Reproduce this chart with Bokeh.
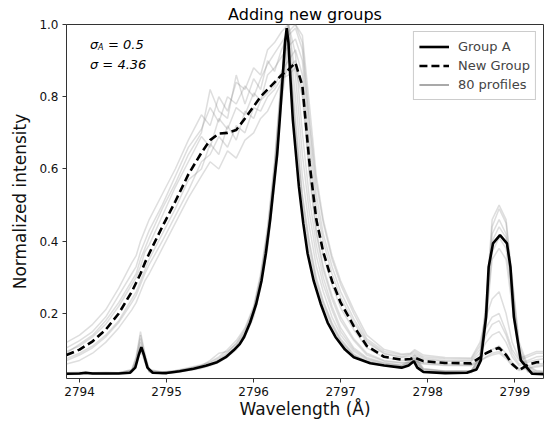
from bokeh.plotting import figure
from bokeh.models import Range1d, FixedTicker, Label, Legend, LegendItem
from bokeh.embed import file_html
from bokeh.resources import INLINE

title = "Adding new groups"
x_ticks = [2794, 2795, 2796, 2797, 2798, 2799]
y_ticks = [0.2, 0.4, 0.6, 0.8, 1.0]
y_tick_labels = ["0.2", "0.4", "0.6", "0.8", "1.0"]

# Group A (solid)
wl_a = [2793.85, 2794.0, 2794.07, 2794.15, 2794.3, 2794.45, 2794.58, 2794.64, 2794.68, 2794.71,
        2794.74, 2794.78, 2794.84, 2795.0, 2795.15, 2795.31, 2795.45, 2795.58, 2795.68, 2795.77,
        2795.84, 2795.89, 2795.96, 2796.03, 2796.09, 2796.14, 2796.19, 2796.23, 2796.27, 2796.30,
        2796.33, 2796.36, 2796.38, 2796.40, 2796.42, 2796.45, 2796.52, 2796.57, 2796.62, 2796.69,
        2796.77, 2796.85, 2796.94, 2797.05, 2797.15, 2797.34, 2797.5, 2797.7, 2797.78, 2797.84,
        2797.88, 2797.95, 2798.2, 2798.45, 2798.56, 2798.61, 2798.67, 2798.70, 2798.75, 2798.83,
        2798.91, 2798.95, 2798.99, 2799.07, 2799.2, 2799.35]
group_a = [0.033, 0.034, 0.036, 0.034, 0.034, 0.034, 0.036, 0.05, 0.085, 0.107,
           0.085, 0.05, 0.036, 0.035, 0.04, 0.047, 0.055, 0.065, 0.079, 0.098,
           0.115, 0.135, 0.175, 0.227, 0.29, 0.366, 0.46, 0.551, 0.64, 0.737,
           0.84, 0.95, 0.99, 0.95, 0.86, 0.737, 0.551, 0.45, 0.366, 0.29,
           0.227, 0.175, 0.135, 0.10, 0.079, 0.062, 0.056, 0.05, 0.056, 0.068,
           0.05, 0.038, 0.035, 0.036, 0.045, 0.07, 0.19, 0.329, 0.394, 0.417,
           0.394, 0.329, 0.19, 0.07, 0.033, 0.032]

# shared wavelength grid for New Group and the individual profiles
wl = [2793.85, 2794.0, 2794.15, 2794.3, 2794.45, 2794.6, 2794.65, 2794.7, 2794.75, 2794.8,
      2794.95, 2795.1, 2795.25, 2795.4, 2795.5, 2795.6, 2795.7, 2795.8, 2795.9, 2796.0,
      2796.08, 2796.16, 2796.24, 2796.32, 2796.4, 2796.48, 2796.56, 2796.64, 2796.72, 2796.8,
      2796.9, 2797.0, 2797.15, 2797.3, 2797.5, 2797.7, 2797.8, 2797.85, 2797.95, 2798.2,
      2798.5, 2798.6, 2798.67, 2798.74, 2798.82, 2798.9, 2798.97, 2799.05, 2799.15, 2799.25,
      2799.35]

new_group = [0.085, 0.10, 0.123, 0.155, 0.20, 0.26, 0.285, 0.31, 0.34, 0.366,
             0.44, 0.51, 0.585, 0.645, 0.68, 0.698, 0.70, 0.708, 0.74, 0.773,
             0.80, 0.82, 0.84, 0.86, 0.875, 0.894, 0.83, 0.62, 0.46, 0.37,
             0.29, 0.23, 0.165, 0.11, 0.08, 0.072, 0.074, 0.078, 0.068, 0.063,
             0.062, 0.078, 0.09, 0.098, 0.105, 0.085, 0.06, 0.043, 0.058, 0.065,
             0.066]

profile_a1 = [.036, .037, .036, .037, .036, .045, .08, .15, .09, .045, .038, .042, .05, .058, .066, .08, .1, .125, .16, .22, .31, .44, .62, .86, 1.0, .80, .58, .44, .33, .26, .19, .14, .095, .072, .06, .055, .066, .08, .046, .04, .041, .08, .22, .44, .49, .45, .29, .11, .05, .04, .038]
profile_a2 = [.031, .032, .033, .032, .033, .038, .055, .10, .065, .038, .033, .036, .042, .048, .055, .065, .08, .10, .135, .19, .27, .38, .55, .78, .93, .72, .52, .39, .29, .23, .17, .125, .085, .066, .056, .05, .058, .066, .04, .035, .036, .06, .17, .35, .38, .35, .22, .08, .038, .034, .033]
profile_a3 = [.034, .035, .035, .036, .035, .042, .07, .13, .08, .042, .036, .04, .047, .055, .07, .09, .095, .115, .15, .21, .30, .42, .60, .84, 1.0, .86, .64, .48, .36, .28, .21, .15, .10, .075, .062, .056, .064, .075, .045, .04, .04, .075, .21, .42, .46, .42, .27, .10, .045, .037, .036]
profile_a4 = [.033, .034, .034, .034, .035, .04, .065, .12, .075, .04, .035, .039, .045, .052, .06, .072, .088, .11, .145, .205, .29, .41, .58, .83, .98, .74, .53, .40, .30, .235, .175, .13, .088, .068, .058, .052, .062, .072, .042, .037, .038, .07, .2, .40, .44, .41, .26, .095, .042, .036, .035]
profile_a5 = [.035, .036, .036, .035, .036, .043, .075, .14, .085, .043, .037, .041, .048, .056, .064, .076, .092, .118, .155, .215, .30, .43, .61, .85, 1.0, .92, .70, .52, .39, .30, .22, .16, .105, .078, .064, .057, .07, .085, .048, .041, .042, .08, .23, .46, .50, .46, .30, .12, .055, .042, .04]
profile_a6 = [.032, .033, .033, .033, .034, .039, .06, .11, .068, .039, .034, .037, .043, .05, .058, .07, .085, .108, .142, .2, .28, .39, .56, .80, .96, .70, .50, .37, .28, .22, .165, .122, .083, .065, .055, .05, .06, .07, .041, .036, .037, .065, .18, .37, .41, .38, .24, .085, .04, .035, .034]

profile_b1 = [.12, .14, .17, .21, .27, .34, .36, .40, .43, .46, .53, .60, .68, .75, .72, .80, .76, .84, .82, .88, .86, .93, .95, .98, 1.0, 1.0, .95, .74, .56, .45, .35, .28, .20, .13, .095, .085, .088, .095, .08, .075, .074, .11, .16, .19, .2, .15, .10, .07, .08, .09, .09]
profile_b2 = [.06, .07, .09, .12, .16, .21, .23, .26, .29, .31, .38, .45, .52, .58, .62, .60, .65, .63, .68, .70, .74, .76, .80, .84, .88, .90, .82, .60, .43, .33, .25, .19, .13, .09, .07, .064, .066, .07, .062, .058, .057, .07, .08, .09, .095, .08, .058, .045, .05, .055, .058]
profile_b3 = [.095, .11, .135, .17, .22, .28, .30, .33, .37, .39, .47, .55, .62, .69, .66, .74, .71, .77, .75, .81, .79, .86, .88, .91, .94, .96, .90, .68, .50, .40, .31, .245, .175, .12, .088, .078, .08, .085, .072, .068, .067, .09, .12, .14, .15, .12, .08, .055, .065, .072, .075]
profile_b4 = [.075, .09, .11, .14, .18, .24, .26, .29, .32, .35, .42, .49, .57, .60, .67, .64, .72, .68, .76, .74, .79, .81, .83, .87, .90, .93, .86, .64, .47, .36, .28, .215, .155, .105, .078, .07, .072, .076, .066, .061, .06, .075, .09, .10, .11, .09, .065, .047, .055, .06, .062]
profile_b5 = [.105, .125, .15, .19, .25, .31, .33, .37, .40, .43, .50, .58, .66, .71, .77, .73, .80, .78, .83, .80, .85, .89, .92, .95, .98, 1.0, .97, .78, .58, .46, .36, .29, .21, .14, .10, .088, .09, .10, .085, .078, .077, .12, .19, .24, .26, .2, .12, .075, .085, .095, .095]
profile_b6 = [.07, .085, .105, .135, .175, .23, .25, .28, .31, .335, .40, .47, .54, .62, .64, .69, .66, .72, .70, .77, .76, .80, .82, .85, .86, .88, .80, .58, .42, .32, .24, .18, .125, .085, .068, .062, .064, .068, .06, .056, .055, .068, .078, .085, .09, .075, .055, .042, .048, .052, .055]
profile_b7 = [.09, .115, .14, .18, .23, .29, .31, .35, .38, .41, .49, .56, .64, .70, .82, .76, .74, .86, .78, .85, .82, .90, .87, .93, .97, .99, .93, .72, .53, .42, .33, .26, .185, .125, .09, .08, .085, .09, .076, .07, .07, .10, .14, .17, .18, .14, .09, .06, .07, .08, .082]

profiles = [profile_a1, profile_a2, profile_a3, profile_a4, profile_a5, profile_a6,
            profile_b1, profile_b2, profile_b3, profile_b4, profile_b5, profile_b6, profile_b7]

FONT = "DejaVu Sans"

p = figure(width=549, height=427, output_backend="svg", toolbar_location=None,
           x_range=Range1d(2793.85, 2799.33), y_range=Range1d(0.02, 1.0),
           title=title, min_border_left=66, min_border_right=6,
           min_border_top=24, min_border_bottom=49)

p.title.align = "center"
p.title.text_font = FONT
p.title.text_font_size = "16px"
p.title.text_font_style = "normal"
p.title.text_color = "black"
p.title.standoff = 2

p.xgrid.visible = False
p.ygrid.visible = False
p.outline_line_color = "#333333"
p.outline_line_width = 1
p.outline_line_alpha = 1

for ax in (p.xaxis[0], p.yaxis[0]):
    ax.axis_line_color = None
    ax.major_tick_line_color = "#333333"
    ax.major_tick_out = 4
    ax.major_tick_in = 0
    ax.minor_tick_line_color = None
    ax.major_label_text_font = FONT
    ax.major_label_text_font_size = "12px"
    ax.major_label_text_color = "#111111"
    ax.axis_label_text_font = FONT
    ax.axis_label_text_font_size = "17px"
    ax.axis_label_text_font_style = "normal"
    ax.axis_label_text_color = "#111111"
    ax.major_label_standoff = 4

p.xaxis.ticker = FixedTicker(ticks=x_ticks)
p.yaxis.ticker = FixedTicker(ticks=y_ticks)
p.yaxis.major_label_overrides = {t: s for t, s in zip(y_ticks, y_tick_labels)}
p.xaxis.axis_label = "Wavelength (Å)"
p.yaxis.axis_label = "Normalized intensity"
p.xaxis.axis_label_standoff = 0
p.yaxis.axis_label_standoff = 6

for prof in profiles:
    p.line(wl, prof, line_color="gray", line_alpha=0.26, line_width=1.5)

r_a = p.line(wl_a, group_a, line_color="black", line_width=2.6)
r_new = p.line(wl, new_group, line_color="black", line_width=2.6, line_dash="8 4")
r_prof = p.line([float("nan")], [float("nan")], line_color="gray", line_alpha=0.9, line_width=1.5)

legend = Legend(items=[LegendItem(label="Group A", renderers=[r_a]),
                       LegendItem(label="New Group", renderers=[r_new]),
                       LegendItem(label="80 profiles", renderers=[r_prof])],
                location="top_right")
legend.label_text_font = FONT
legend.label_text_font_size = "13px"
legend.glyph_width = 30
legend.glyph_height = 19
legend.label_height = 19
legend.spacing = 0
legend.padding = 5
legend.margin = 7
legend.label_standoff = 9
legend.border_line_color = "#cccccc"
legend.border_line_alpha = 1
legend.background_fill_alpha = 0.85
p.add_layout(legend)

ann_x = 2794.12
lab_kw = dict(text_font=FONT, text_font_size="13px", text_font_style="italic",
              text_baseline="middle", text_color="black")
p.add_layout(Label(x=ann_x, y=0.945, text="σ", **lab_kw))
p.add_layout(Label(x=ann_x, y=0.945, x_offset=8, y_offset=-3, text="A",
                   text_font=FONT, text_font_size="8px", text_font_style="italic",
                   text_baseline="middle", text_color="black"))
p.add_layout(Label(x=ann_x, y=0.945, x_offset=18, text="= 0.5", **lab_kw))
p.add_layout(Label(x=ann_x, y=0.89, text="σ = 4.36", **lab_kw))

open("out.html", "w").write(file_html(p, INLINE))
